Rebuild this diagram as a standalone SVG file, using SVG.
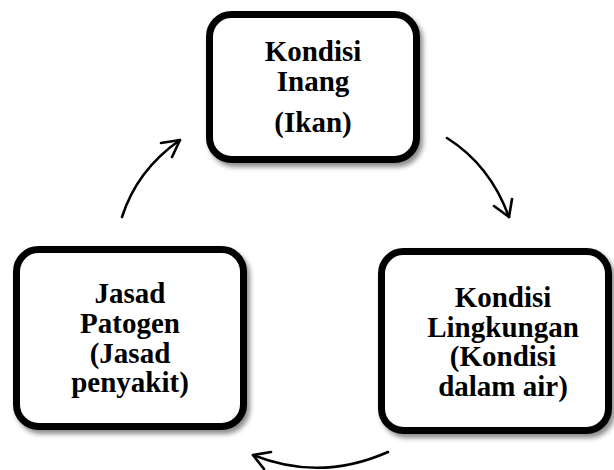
<svg xmlns="http://www.w3.org/2000/svg" width="614" height="470" viewBox="0 0 614 470">
<defs>
<style>
.box{fill:#fff;stroke:#000;stroke-width:7;filter:url(#sh)}
.t{font-family:'Liberation Serif','Times New Roman',Times,'DejaVu Serif',serif;font-weight:700;font-size:29px;fill:#000;text-anchor:middle}
.c{fill:none;stroke:#000;stroke-width:2.6;stroke-linecap:round;stroke-linejoin:round}
</style>
<filter id="sh" x="-10%" y="-10%" width="125%" height="125%">
<feDropShadow dx="3" dy="4" stdDeviation="2.5" flood-color="#000" flood-opacity="0.45"/>
</filter>
</defs>
<rect width="614" height="470" fill="#fff"/>
<g id="connectors">
<path class="c" d="M122,217 Q137,170 180,140"/>
<path class="c" d="M161,143 L180,140 L172,157"/>
<path class="c" d="M447,138 Q490,165 509,217"/>
<path class="c" d="M494,206 L509,217 L512,199"/>
<path class="c" d="M388,452 Q320,482 253,455"/>
<path class="c" d="M271,452 L253,455 L264,469"/>
</g>
<g id="node-inang">
<rect class="box" x="209.5" y="14.5" width="207" height="145" rx="22"/>
<text class="t" font-family="Liberation Serif, serif" x="313" y="61">Kondisi</text>
<text class="t" font-family="Liberation Serif, serif" x="313" y="91">Inang</text>
<text class="t" font-family="Liberation Serif, serif" x="313" y="132">(Ikan)</text>
</g>
<g id="node-patogen">
<rect class="box" x="16.5" y="249.5" width="227" height="177" rx="22"/>
<text class="t" x="130" y="303">Jasad</text>
<text class="t" x="130" y="333">Patogen</text>
<text class="t" x="130" y="363">(Jasad</text>
<text class="t" x="130" y="392">penyakit)</text>
</g>
<g id="node-lingkungan">
<rect class="box" x="381.5" y="251.5" width="227" height="179" rx="22"/>
<text class="t" x="503" y="307">Kondisi</text>
<text class="t" x="503" y="337">Lingkungan</text>
<text class="t" x="503" y="366">(Kondisi</text>
<text class="t" x="503" y="396">dalam air)</text>
</g>
</svg>
